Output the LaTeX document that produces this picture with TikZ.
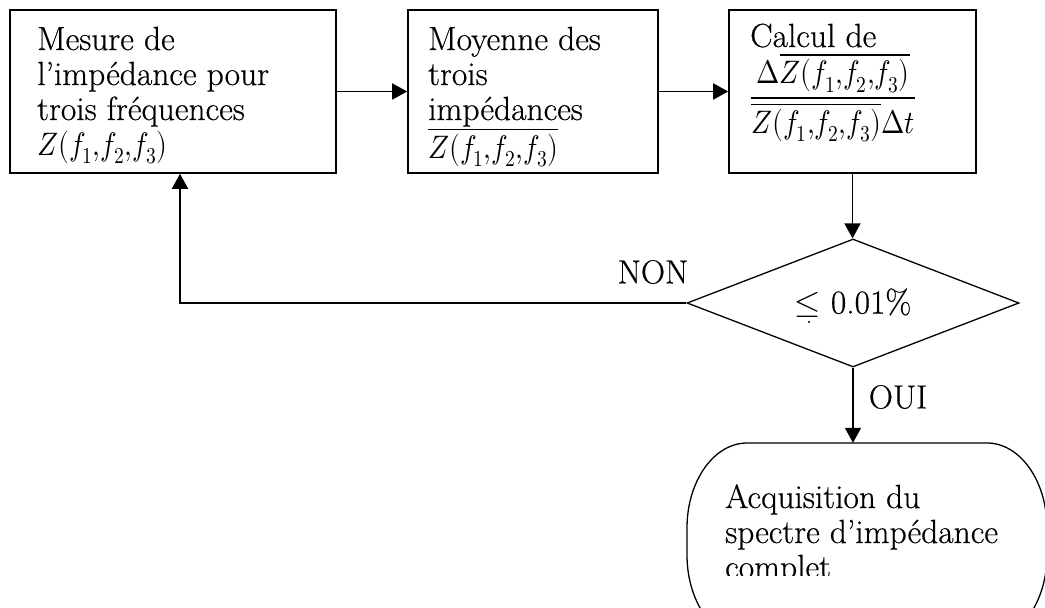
\documentclass[tikz,border=0pt]{standalone}
\usepackage{fontspec}
\usepackage{unicode-math}
\usepackage{graphicx}
\setmainfont{Latin Modern Roman}[FakeBold=0.5]
\setmathfont{Latin Modern Math}
\usetikzlibrary{arrows.meta,shapes.geometric}
\newcommand{\mz}[1]{\scalebox{0.86}[1]{\fontsize{32.5}{35}\selectfont #1}}
\begin{document}
\begin{tikzpicture}[x=1pt,y=-1pt,
  stepbox/.style={draw, line width=1.6pt, inner sep=0pt, minimum height=163pt},
  txt/.style={anchor=base west, inner sep=0pt, font=\fontsize{33.5}{35}\selectfont},
  lbl/.style={inner sep=0pt, font=\fontsize{33.5}{35}\selectfont},
  arr/.style={-{Triangle[length=15pt,width=16pt]}, line width=1.8pt}]
\useasboundingbox (0,0) rectangle (1045,608);
\clip (0,0) rectangle (1045,608);
% boxes
\node[stepbox, minimum width=326pt] (b1) at (173,91.5) {};
\node[stepbox, minimum width=250pt] (b2) at (533,91.5) {};
\node[stepbox, minimum width=247pt] (b3) at (852.5,91.5) {};
% texts in boxes
\node[txt] (t1) at (37,50) {\parbox[t]{295pt}{Mesure de\\l’impédance pour\\trois fréquences\\\mz{$Z(f_1{,}f_2{,}f_3)$}}};
\node[txt] (t2) at (428,50) {\parbox[t]{225pt}{Moyenne des\\trois\\impédances\\\mz{$\overline{Z(f_1{,}f_2{,}f_3)}$}}};
\node[txt] (t3) at (750,47) {Calcul de};
\node[txt] (t3f) at (750,106) {\mz{$\dfrac{\Delta\overline{Z(f_1{,}f_2{,}f_3)}}{\overline{Z(f_1{,}f_2{,}f_3)}\Delta t}$}};
% decision
\node[diamond, draw, line width=1.3pt, minimum width=332pt, minimum height=128pt, inner sep=0pt] (d) at (853,303) {};
\node[lbl] (dt) at (d.center) {$\leq$ 0.01\%};
\fill (809,322) circle (1.2pt);
% terminal (invisible anchor node + drawn outline)
\node[minimum width=360pt, minimum height=197pt, inner sep=0pt] (t) at (867,541.5) {};
\draw[line width=1.3pt] (747,443) -- (987,443)
  .. controls (1020,443) and (1047,481) .. (1047,528) -- (1047,555)
  .. controls (1047,602) and (1020,640) .. (987,640) -- (747,640)
  .. controls (714,640) and (687,602) .. (687,555) -- (687,528)
  .. controls (687,481) and (714,443) .. (747,443) -- cycle;
\begin{scope}
\clip (0,0) rectangle (1045,575);
\node[txt] (t4) at (725,508) {\parbox[t]{310pt}{Acquisition du\\spectre d’impédance\\complet}};
\end{scope}
% labels
\node[lbl] (non) at (653,272) {NON};
\node[lbl] (oui) at (898,397) {OUI};
% connectors
\coordinate (k) at (180,303);
\draw[arr] (b1) -- (b2);
\draw[arr] (b2) -- (b3);
\draw[arr] (b3.south) -- (b3.south |- d.north);
\draw[arr] (d.south) -- (d.south |- t.north);
\draw[arr] (d.west) -- (k) -- (k |- b1.south);
\end{tikzpicture}
\end{document}
